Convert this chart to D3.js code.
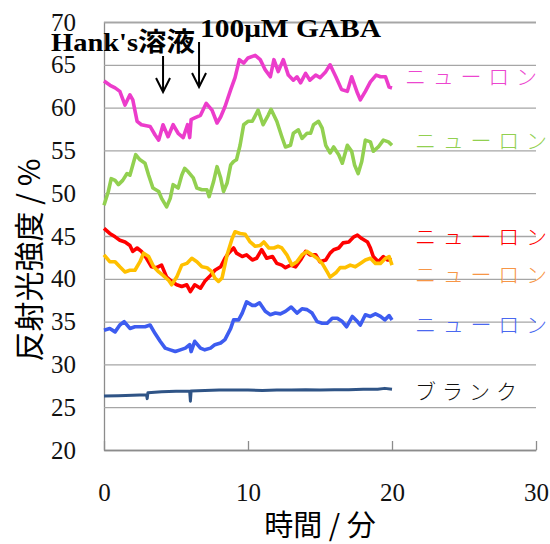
<!DOCTYPE html>
<html>
<head>
<meta charset="utf-8">
<script src="https://cdn.jsdelivr.net/npm/d3@7"></script>
<style>
  body { margin: 0; background: #fff; }
</style>
</head>
<body>
<div id="chart"></div>
<script>
// Data: [minutes, reflectance %]
var neuronPink = [[0,63.1],[0.42,62.6],[0.77,62.3],[1.1,61.9],[1.46,60.3],[1.8,61.5],[2.0,60.9],[2.3,58.4],[2.6,58.0],[3.2,57.8],[3.55,56.8],[3.8,56.2],[4.1,58.0],[4.45,56.6],[4.8,58.0],[5.15,57.0],[5.5,56.5],[5.8,58.0],[5.95,56.5],[6.05,58.6],[6.3,58.8],[6.7,59.1],[7.1,60.5],[7.5,59.7],[7.85,58.2],[8.1,58.9],[8.4,60.1],[8.8,62.1],[9.1,63.5],[9.4,65.6],[9.7,65.2],[10.0,65.8],[10.5,66.1],[10.85,65.6],[11.2,64.4],[11.55,63.6],[11.8,65.6],[12.1,64.2],[12.45,65.6],[12.8,63.8],[13.15,63.2],[13.4,63.6],[13.65,62.9],[14.0,64.0],[14.3,63.2],[14.7,63.8],[15.0,63.5],[15.4,64.2],[15.7,65.0],[16.1,63.6],[16.5,62.1],[16.9,61.9],[17.2,63.6],[17.6,61.7],[17.8,60.9],[18.15,61.9],[18.5,63.0],[18.9,63.8],[19.2,63.6],[19.55,63.6],[19.8,62.4],[20,62.3]];

var neuronGreen = [[0,48.6],[0.3,50.2],[0.5,51.7],[0.77,51.5],[1.0,51.0],[1.3,51.5],[1.6,52.3],[1.8,52.1],[2.0,53.3],[2.2,54.5],[2.5,53.9],[2.85,53.5],[3.1,52.1],[3.4,50.6],[3.8,50.2],[4.0,49.4],[4.35,48.4],[4.6,49.4],[4.8,51.0],[5.15,50.6],[5.4,52.1],[5.6,52.9],[5.85,52.5],[6.2,51.8],[6.45,50.6],[6.8,50.4],[7.15,50.4],[7.3,49.6],[7.6,51.3],[7.85,53.1],[8.1,51.8],[8.3,50.2],[8.55,51.2],[8.8,53.3],[9.0,53.7],[9.2,53.9],[9.45,55.6],[9.7,58.0],[10.0,58.4],[10.3,58.4],[10.7,59.7],[11.05,58.0],[11.4,59.1],[11.6,59.8],[12.0,58.4],[12.35,56.6],[12.6,55.4],[12.95,55.6],[13.15,57.0],[13.5,57.4],[13.75,56.4],[14.1,57.0],[14.35,57.0],[14.55,58.0],[14.9,58.4],[15.15,57.6],[15.4,55.6],[15.7,54.7],[15.95,55.4],[16.3,54.5],[16.55,53.5],[16.9,55.6],[17.2,54.9],[17.4,53.3],[17.65,52.3],[17.9,53.7],[18.15,56.2],[18.5,56.0],[18.7,54.9],[19.05,55.4],[19.4,56.2],[19.75,56.0],[20,55.6]];

var neuronRed = [[0,45.9],[0.4,45.3],[0.77,44.9],[1.1,44.5],[1.46,44.3],[1.8,43.9],[2.0,43.2],[2.3,43.6],[2.6,43.2],[2.95,42.4],[3.3,41.4],[3.65,41.3],[4.0,41.6],[4.35,40.2],[4.7,39.7],[5.05,39.3],[5.4,39.1],[5.75,39.3],[6.0,38.5],[6.3,39.3],[6.7,38.9],[7.0,39.7],[7.4,40.4],[7.7,41.0],[8.1,41.4],[8.4,42.4],[8.65,43.0],[9.0,43.6],[9.2,43.0],[9.6,42.6],[9.9,42.8],[10.3,42.2],[10.6,42.4],[10.95,43.4],[11.3,42.4],[11.7,42.6],[12.0,41.8],[12.35,41.6],[12.6,41.3],[12.95,41.6],[13.3,41.4],[13.65,42.2],[14.0,43.2],[14.3,42.8],[14.7,42.8],[15.0,42.0],[15.4,42.2],[15.7,43.0],[15.95,43.4],[16.3,43.6],[16.6,44.2],[17.0,44.3],[17.35,44.9],[17.6,45.1],[17.9,44.7],[18.3,44.3],[18.5,43.6],[18.7,42.6],[19.05,42.0],[19.4,42.6],[19.7,42.2],[20,42.2]];

var neuronOrange = [[0,42.8],[0.4,42.0],[0.77,42.0],[1.1,41.4],[1.46,40.8],[1.8,41.0],[2.15,41.0],[2.5,42.0],[2.75,43.0],[3.1,42.6],[3.45,41.4],[3.8,40.8],[4.1,40.4],[4.5,39.8],[4.7,39.3],[5.05,40.2],[5.4,41.6],[5.75,41.8],[6.1,42.4],[6.45,42.0],[6.8,41.4],[7.15,41.3],[7.5,40.8],[7.7,40.1],[7.95,39.7],[8.2,40.1],[8.55,42.8],[8.9,44.7],[9.1,45.5],[9.45,45.3],[9.8,45.2],[10.15,44.3],[10.5,43.8],[10.85,43.9],[11.1,44.3],[11.45,43.6],[11.8,43.6],[12.1,43.8],[12.35,43.6],[12.7,42.8],[13.05,41.6],[13.4,42.0],[13.75,42.8],[14.1,43.2],[14.45,42.8],[14.8,42.4],[15.15,41.8],[15.5,40.8],[15.7,40.2],[16.1,40.7],[16.4,41.3],[16.75,41.3],[17.1,41.6],[17.45,41.4],[17.8,41.8],[18.15,42.2],[18.5,42.4],[18.85,41.8],[19.2,41.8],[19.55,42.4],[19.8,42.6],[20,41.6]];

var neuronBlue = [[0,34.0],[0.4,34.2],[0.77,33.8],[1.1,34.6],[1.4,35.0],[1.8,34.2],[2.15,34.4],[2.5,34.4],[2.85,34.4],[3.2,34.6],[3.55,33.6],[3.9,32.7],[4.25,31.9],[4.6,31.7],[4.95,31.5],[5.3,31.7],[5.65,31.9],[5.95,32.3],[6.05,31.5],[6.3,32.7],[6.7,31.9],[7.0,31.7],[7.4,31.9],[7.7,32.3],[8.1,32.5],[8.4,32.9],[8.8,34.2],[9.0,35.2],[9.35,35.2],[9.6,36.0],[9.9,37.3],[10.3,36.9],[10.5,36.9],[10.8,37.2],[11.2,36.2],[11.55,35.8],[11.9,36.0],[12.25,35.9],[12.6,36.2],[13.0,36.7],[13.4,36.0],[13.75,36.5],[14.1,36.4],[14.45,36.0],[14.8,35.0],[15.15,34.8],[15.5,34.8],[15.85,35.4],[16.2,35.4],[16.55,35.0],[16.85,34.4],[17.25,35.6],[17.6,35.0],[17.8,34.6],[18.15,35.8],[18.5,35.6],[18.85,35.9],[19.2,35.6],[19.5,35.2],[19.8,35.7],[20,35.2]];

var blank = [[0,26.3],[1,26.35],[2,26.4],[2.95,26.45],[3.0,26.0],[3.05,26.7],[4,26.8],[5,26.85],[5.95,26.85],[6.0,25.7],[6.05,26.9],[7,26.95],[8,27.0],[9,27.0],[10,27.0],[11,26.95],[12,27.0],[13,27.0],[14,27.05],[15,27.0],[16,27.05],[17,27.05],[18,27.1],[19,27.1],[19.5,27.2],[20,27.1]];

var seriesNames = ["ニューロン", "ニューロン", "ニューロン", "ニューロン", "ニューロン", "ブランク"];
var xTicks = [0, 10, 20, 30];
var yTicks = [20, 25, 30, 35, 40, 45, 50, 55, 60, 65, 70];
var markerTimes = [4.1, 6.6];
var markerTexts = ["Hank's溶液", "100μM  GABA"];

// Set svg Width and Height
var svgWidth = 550;
var svgHeight = 544;

var margin = {top: 22, right: 14, bottom: 94, left: 104};
var width = svgWidth - margin.left - margin.right;
var height = svgHeight - margin.top - margin.bottom;

var svg = d3.select("#chart")
  .append("svg")
  .attr("width", svgWidth)
  .attr("height", svgHeight);

var chartGroup = svg.append("g")
  .attr("transform", `translate(${margin.left}, ${margin.top})`);

var xScale = d3.scaleLinear().domain([0, 30]).range([0, width]);
var yScale = d3.scaleLinear().domain([20, 70]).range([height, 0]);

// gridlines + y labels
var leftAxis = d3.axisLeft(yScale)
  .tickValues(yTicks)
  .tickSize(-width)
  .tickPadding(28)
  .tickFormat(d3.format("d"));

var yAxisG = chartGroup.append("g").call(leftAxis);
yAxisG.select(".domain").attr("stroke", "#8c8c8c").attr("stroke-width", 1.3);
yAxisG.selectAll(".tick line")
  .attr("stroke", "#a6a6a6")
  .attr("stroke-width", 1.3)
  .filter(d => d === 20).remove();
yAxisG.selectAll(".tick text")
  .style("font-family", "'Liberation Serif', serif")
  .style("font-size", "25px")
  .attr("fill", "#111");

// x axis with ticks pointing up
var bottomAxis = d3.axisBottom(xScale)
  .tickValues(xTicks)
  .tickSizeInner(-9)
  .tickSizeOuter(0)
  .tickPadding(33);

var xAxisG = chartGroup.append("g")
  .attr("transform", `translate(0, ${height})`)
  .call(bottomAxis);
xAxisG.select(".domain").attr("stroke", "#8c8c8c").attr("stroke-width", 1.3);
xAxisG.selectAll(".tick line").attr("stroke", "#8c8c8c").attr("stroke-width", 1.3);
xAxisG.selectAll(".tick text")
  .style("font-family", "'Liberation Serif', serif")
  .style("font-size", "25px")
  .attr("fill", "#111");

// lines
var series = [
  {values: neuronPink, color: "#ec3ccb", label: "#ec46cf", w: 3.6},
  {values: neuronGreen, color: "#92d050", label: "#92d050", w: 3.6},
  {values: neuronRed, color: "#ff0000", label: "#ff0000", w: 3.6},
  {values: neuronOrange, color: "#ffc000", label: "#f79646", w: 3.6},
  {values: neuronBlue, color: "#3d5cf0", label: "#4a68f0", w: 3.6},
  {values: blank, color: "#2f5486", label: "#111", w: 3}
];

var line = d3.line()
  .x(d => xScale(d[0]))
  .y(d => yScale(d[1]));

chartGroup.selectAll(".series")
  .data(series)
  .enter()
  .append("path")
  .attr("class", "series")
  .attr("d", d => line(d.values))
  .attr("fill", "none")
  .attr("stroke", d => d.color)
  .attr("stroke-width", d => d.w)
  .attr("stroke-linejoin", "round");

// right-hand labels (pixel spots)
var labelSpots = [[301, 53, 132], [311, 117, 132], [311, 213, 132], [311, 251, 132], [311, 301, 132], [311, 368, 102]];

chartGroup.selectAll(".lbl")
  .data(series)
  .enter()
  .append("text")
  .attr("class", "lbl")
  .attr("x", (d, i) => labelSpots[i][0])
  .attr("y", (d, i) => labelSpots[i][1])
  .attr("dominant-baseline", "central")
  .attr("textLength", (d, i) => labelSpots[i][2])
  .attr("lengthAdjust", "spacing")
  .style("font-family", "'Noto Sans CJK JP', sans-serif")
  .style("font-weight", 300)
  .style("font-size", "21px")
  .attr("fill", d => d.label)
  .text((d, i) => seriesNames[i]);

// arrows for additions
var arrowTops = [34, 20];
var arrowEnd = [70, 65];
markerTimes.forEach(function(t, i) {
  var x = xScale(t);
  chartGroup.append("path")
    .attr("d", `M${x},${arrowTops[i]}V${arrowEnd[i]}M${x - 7},${arrowEnd[i] - 14}L${x},${arrowEnd[i]}L${x + 7},${arrowEnd[i] - 14}`)
    .attr("fill", "none")
    .attr("stroke", "#000")
    .attr("stroke-width", 2);
});

svg.append("text")
  .attr("x", 51)
  .attr("y", 51)
  .attr("textLength", 144)
  .attr("lengthAdjust", "spacingAndGlyphs")
  .style("font-family", "'Liberation Serif', 'Noto Sans CJK JP', serif")
  .style("font-weight", "bold")
  .style("font-size", "26px")
  .text(markerTexts[0]);

svg.append("text")
  .attr("x", 200)
  .attr("y", 37)
  .attr("textLength", 181)
  .attr("lengthAdjust", "spacingAndGlyphs")
  .style("font-family", "'Liberation Serif', serif")
  .style("font-weight", "bold")
  .style("font-size", "26px")
  .text(markerTexts[1]);

// axis titles
svg.append("text")
  .attr("transform", "translate(40, 260) rotate(-90)")
  .attr("text-anchor", "middle")
  .style("font-family", "'Noto Sans CJK JP', sans-serif")
  .style("font-size", "30px")
  .text("反射光強度 / %");

svg.append("text")
  .attr("x", 320)
  .attr("y", 536)
  .attr("text-anchor", "middle")
  .style("font-family", "'Noto Sans CJK JP', sans-serif")
  .style("font-size", "29px")
  .text("時間 / 分");
</script>
</body>
</html>
